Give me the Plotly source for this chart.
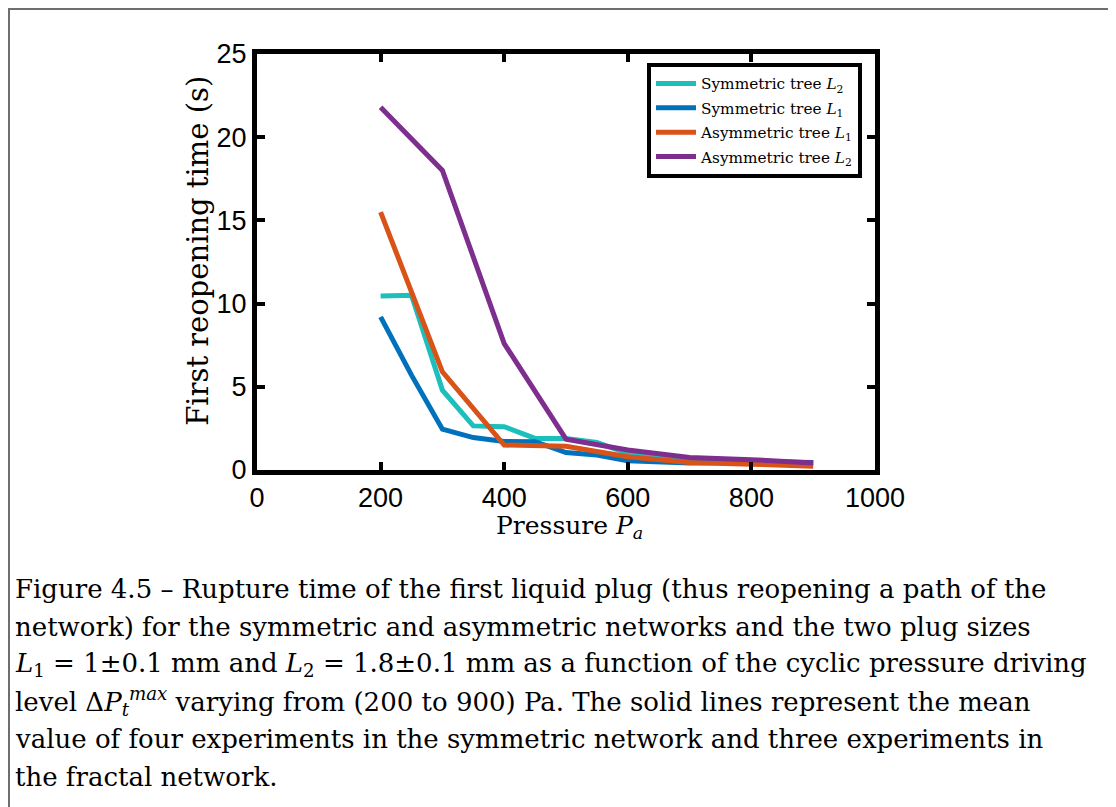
import plotly.graph_objects as go

# ---- data ----
x_sym = [200, 250, 300, 350, 400, 450, 500, 550, 600, 700, 800, 900]
sym_L2 = [10.45, 10.5, 4.8, 2.65, 2.6, 1.9, 1.9, 1.65, 1.0, 0.6, 0.55, 0.45]
sym_L1 = [9.2, 5.7, 2.45, 1.95, 1.72, 1.7, 1.05, 0.9, 0.55, 0.42, 0.45, 0.45]
x_asym = [200, 300, 400, 500, 600, 700, 800, 900]
asym_L1 = [15.5, 5.9, 1.5, 1.42, 0.8, 0.45, 0.35, 0.22]
asym_L2 = [21.8, 18.0, 7.6, 1.85, 1.2, 0.75, 0.62, 0.42]

names = ["Symmetric tree <i>L</i><sub>2</sub>", "Symmetric tree <i>L</i><sub>1</sub>",
         "Asymmetric tree <i>L</i><sub>1</sub>", "Asymmetric tree <i>L</i><sub>2</sub>"]
colors = ["#1DBFBC", "#0072BD", "#D95319", "#7E2F8E"]

x_ticks = [0, 200, 400, 600, 800, 1000]
y_ticks = [0, 5, 10, 15, 20, 25]

x_title = "Pressure <i>P</i><sub><i>a</i></sub>"
y_title = "First reopening time (s)"

caption_lines = [
    "Figure 4.5 – Rupture time of the first liquid plug (thus reopening a path of the",
    "network) for the symmetric and asymmetric networks and the two plug sizes",
    "<i>L</i><sub>1</sub> = 1±0.1 mm and <i>L</i><sub>2</sub> = 1.8±0.1 mm as a function of the cyclic pressure driving",
    "level Δ<i>P</i><sub><i>t</i></sub><sup><i>max</i></sup> varying from (200 to 900) Pa. The solid lines represent the mean",
    "value of four experiments in the symmetric network and three experiments in",
    "the fractal network.",
]

W, H = 1116, 807
OFF = 8  # page body margin
# target plot-area edges in page pixels
PL, PR, PT, PB = 257, 875, 54, 470.5
ML = PL - OFF
MT = PT - OFF
MR = W - (PR - OFF)
MB = H - (PB - OFF)

def px(xp):  # page x -> paper
    return (xp - PL) / (PR - PL)

def py(yp):  # page y -> paper
    return (PB - yp) / (PB - PT)

fig = go.Figure()
series = [(x_sym, sym_L2), (x_sym, sym_L1), (x_asym, asym_L1), (x_asym, asym_L2)]
for i, ((xs, ys), nm, c) in enumerate(zip(series, names, colors)):
    fig.add_trace(go.Scatter(x=xs, y=ys, mode="lines", name=nm, legendgroup=str(i),
                             line=dict(color=c, width=5)))

axis_common = dict(showgrid=False, zeroline=False, showline=True, linecolor="black",
                   linewidth=5, ticks="inside", ticklen=8, tickwidth=4, tickcolor="black",
                   mirror="allticks",
                   tickfont=dict(family="Liberation Sans, Arial", size=27, color="black"))

fig.update_xaxes(range=[0, 1000], tickvals=x_ticks, ticktext=[str(v) for v in x_ticks],
                 **axis_common)
fig.update_yaxes(range=[0, 25], tickvals=y_ticks, ticktext=[str(v) for v in y_ticks],
                 **axis_common)

annotations = [
    dict(text=x_title, xref="paper", yref="paper", x=px(569), y=py(528),
         xanchor="center", yanchor="middle", showarrow=False,
         font=dict(family="DejaVu Serif", size=25, color="black")),
    dict(text=y_title, xref="paper", yref="paper", x=px(198), y=py(251), textangle=-90,
         xanchor="center", yanchor="middle", showarrow=False,
         font=dict(family="DejaVu Serif", size=29, color="black")),
]
y0 = 590
for k, line in enumerate(caption_lines):
    annotations.append(dict(text=line, xref="paper", yref="paper", x=px(13), y=py(y0 + k * 37.5),
                            xanchor="left", yanchor="middle", showarrow=False,
                            font=dict(family="DejaVu Serif", size=26, color="black")))

shapes = [
    dict(type="line", xref="paper", yref="paper", x0=px(8), x1=px(1130), y0=py(9), y1=py(9),
         line=dict(color="#6e6e6e", width=2)),
    dict(type="line", xref="paper", yref="paper", x0=px(9), x1=px(9), y0=py(9), y1=py(830),
         line=dict(color="#6e6e6e", width=2)),
]

fig.update_layout(
    width=W, height=H,
    margin=dict(l=ML, r=MR, t=MT, b=MB),
    paper_bgcolor="white", plot_bgcolor="white",
    showlegend=True,
    legend=dict(x=px(862), y=py(63), xanchor="right", yanchor="top",
                bgcolor="white", bordercolor="black", borderwidth=4,
                tracegroupgap=1.5, itemwidth=40,
                font=dict(family="DejaVu Serif", size=15.3, color="black")),
    annotations=annotations, shapes=shapes,
)

fig.write_html("out.html")
